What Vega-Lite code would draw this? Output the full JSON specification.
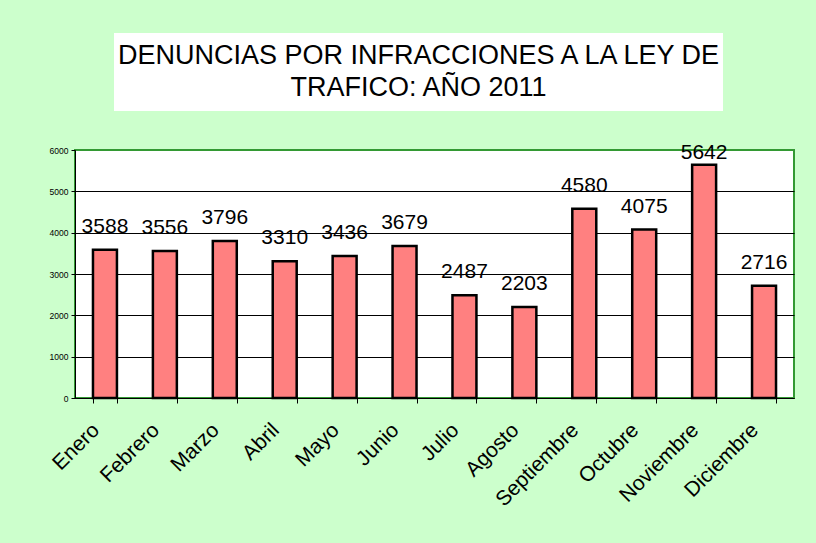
{
  "$schema": "https://vega.github.io/schema/vega-lite/v6.json",
  "background": "#ccffcc",
  "padding": {"top": 33, "left": 47, "right": 21, "bottom": 40},
  "spacing": 29,
  "center": false,
  "config": {"font": "Liberation Sans", "view": {"stroke": null}},
  "vconcat": [
    {
      "spacing": 20,
      "hconcat": [
        {
          "width": 19,
          "height": 78,
          "data": {"values": [{"vacio": ""}]},
          "mark": {"type": "text", "opacity": 0},
          "encoding": {"text": {"field": "vacio"}}
        },
        {
          "width": 609,
          "height": 78,
          "view": {"fill": "white", "stroke": null},
          "data": {"values": [
            {"linea": 1, "texto": "DENUNCIAS POR INFRACCIONES A LA LEY DE"},
            {"linea": 2, "texto": "TRAFICO: AÑO 2011"}
          ]},
          "mark": {"type": "text", "fontSize": 27, "baseline": "middle", "align": "center", "color": "black"},
          "encoding": {
            "y": {"field": "linea", "type": "ordinal", "axis": null, "scale": {"type": "point", "padding": 0.72}},
            "text": {"field": "texto"}
          }
        }
      ]
    },
    {
      "width": 719,
      "height": 248,
      "view": {"fill": "white", "stroke": "#339933", "strokeWidth": 2},
      "data": {"values": [
        {"mes": "Enero", "denuncias": 3588},
        {"mes": "Febrero", "denuncias": 3556},
        {"mes": "Marzo", "denuncias": 3796},
        {"mes": "Abril", "denuncias": 3310},
        {"mes": "Mayo", "denuncias": 3436},
        {"mes": "Junio", "denuncias": 3679},
        {"mes": "Julio", "denuncias": 2487},
        {"mes": "Agosto", "denuncias": 2203},
        {"mes": "Septiembre", "denuncias": 4580},
        {"mes": "Octubre", "denuncias": 4075},
        {"mes": "Noviembre", "denuncias": 5642},
        {"mes": "Diciembre", "denuncias": 2716}
      ]},
      "encoding": {
        "x": {
          "field": "mes", "type": "nominal", "sort": null,
          "scale": {"paddingInner": 0.6, "paddingOuter": 0.3},
          "axis": {
            "title": null, "labelAngle": -45, "labelFontSize": 21, "labelColor": "black",
            "tickBand": "extent", "tickSize": 5, "tickColor": "black", "domainColor": "black",
            "labelPadding": 16, "labelOffset": -17, "grid": false
          }
        },
        "y": {
          "field": "denuncias", "type": "quantitative",
          "scale": {"domain": [0, 6000], "nice": false},
          "axis": {
            "title": null, "values": [0, 1000, 2000, 3000, 4000, 5000, 6000], "format": "d",
            "labelFontSize": 8.5, "labelColor": "black", "tickSize": 4, "tickColor": "black",
            "domainColor": "black", "labelPadding": 3, "grid": true,
            "gridColor": {"condition": {"test": "datum.value == 6000", "value": "#339933"}, "value": "black"},
            "gridOpacity": 1
          }
        }
      },
      "layer": [
        {"mark": {"type": "bar", "fill": "#ff8080", "stroke": "black", "strokeWidth": 2.5}},
        {
          "mark": {"type": "text", "fontSize": 21, "baseline": "alphabetic", "color": "black",
                   "dy": {"expr": "datum.denuncias > 5500 ? -6 : -17"}},
          "encoding": {"text": {"field": "denuncias", "type": "quantitative", "format": "d"}}
        }
      ]
    }
  ]
}
